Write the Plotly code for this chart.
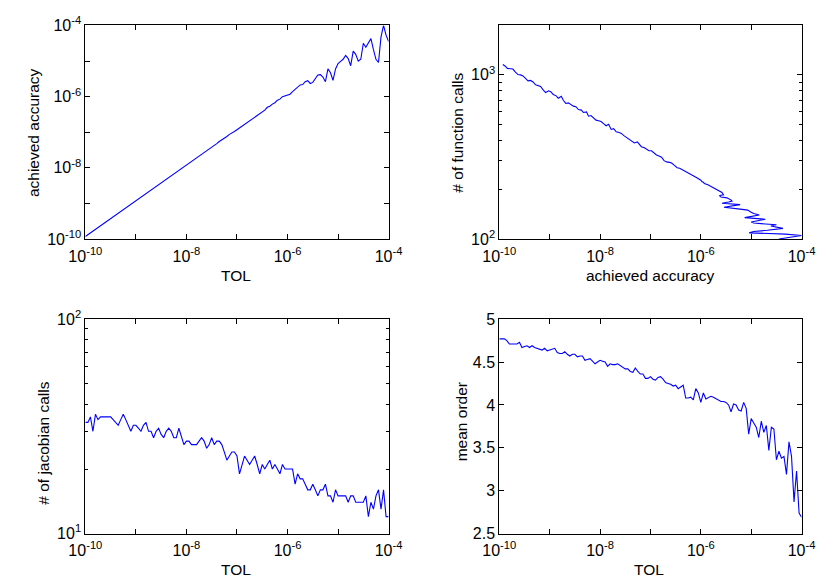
import plotly.graph_objects as go

# ---- data ----
tol_exp = [
    -10.00, -9.95, -9.90, -9.85, -9.80, -9.75, -9.70, -9.65, -9.60, -9.55,
    -9.50, -9.45, -9.40, -9.35, -9.30, -9.25, -9.20, -9.15, -9.10, -9.05,
    -9.00, -8.95, -8.90, -8.85, -8.80, -8.75, -8.70, -8.65, -8.60, -8.55,
    -8.50, -8.45, -8.40, -8.35, -8.30, -8.25, -8.20, -8.15, -8.10, -8.05,
    -8.00, -7.95, -7.90, -7.85, -7.80, -7.75, -7.70, -7.65, -7.60, -7.55,
    -7.50, -7.45, -7.40, -7.35, -7.30, -7.25, -7.20, -7.15, -7.10, -7.05,
    -7.00, -6.95, -6.90, -6.85, -6.80, -6.75, -6.70, -6.65, -6.60, -6.55,
    -6.50, -6.45, -6.40, -6.35, -6.30, -6.25, -6.20, -6.15, -6.10, -6.05,
    -6.00, -5.95, -5.90, -5.85, -5.80, -5.75, -5.70, -5.65, -5.60, -5.55,
    -5.50, -5.45, -5.40, -5.35, -5.30, -5.25, -5.20, -5.15, -5.10, -5.05,
    -5.00, -4.95, -4.90, -4.85, -4.80, -4.75, -4.70, -4.65, -4.60, -4.55,
    -4.50, -4.45, -4.40, -4.35, -4.30, -4.25, -4.20, -4.15, -4.10, -4.05,
    -4.00,
]

acc_exp = [
    -9.93, -9.88, -9.84, -9.78, -9.73, -9.68, -9.63, -9.58, -9.53, -9.47,
    -9.43, -9.38, -9.33, -9.28, -9.22, -9.18, -9.13, -9.08, -9.02, -8.98,
    -8.93, -8.87, -8.83, -8.77, -8.73, -8.68, -8.63, -8.58, -8.53, -8.48,
    -8.43, -8.37, -8.33, -8.27, -8.23, -8.18, -8.13, -8.08, -8.03, -7.98,
    -7.93, -7.88, -7.83, -7.78, -7.73, -7.68, -7.62, -7.58, -7.52, -7.47,
    -7.43, -7.38, -7.32, -7.26, -7.22, -7.18, -7.12, -7.06, -7.03, -6.98,
    -6.93, -6.88, -6.83, -6.78, -6.73, -6.68, -6.62, -6.58, -6.53, -6.47,
    -6.42, -6.38, -6.30, -6.27, -6.21, -6.17, -6.10, -6.07, -6.00, -5.98,
    -5.95, -5.93, -5.86, -5.80, -5.73, -5.67, -5.66, -5.58, -5.55, -5.63,
    -5.60, -5.48, -5.39, -5.38, -5.45, -5.58, -5.22, -5.33, -5.54, -5.22,
    -5.07, -5.01, -4.95, -4.84, -4.93, -5.13, -4.72, -4.81, -5.00, -4.95,
    -4.50, -4.61, -4.50, -4.37, -4.68, -4.95, -5.04, -4.32, -4.00, -4.27,
    -4.45,
]

fcalls = [
    1156, 1130, 1095, 1090, 1085, 1040, 1005, 1000, 985, 945,
    920, 925, 905, 870, 860, 850, 810, 780, 800, 790,
    760, 745, 720, 740, 700, 670, 675, 660, 645, 640,
    615, 610, 590, 595, 560, 565, 545, 530, 525, 520,
    505, 490, 500, 465, 470, 450, 445, 440, 425, 415,
    410, 400, 385, 390, 375, 365, 360, 350, 345, 345,
    335, 325, 320, 315, 300, 295, 293, 290, 282, 272,
    270, 266, 258, 256, 250, 245, 238, 235, 228, 224,
    222, 218, 214, 209, 204, 200, 197, 192, 186, 184,
    180, 178, 172, 170, 168, 165, 162, 160, 156, 152,
    150, 146, 143, 140, 138, 135, 132, 130, 127, 125,
    122, 120, 118, 116, 113, 111, 109, 107, 105, 102,
    100,
]

jac_calls = [
    33, 33, 35, 30, 36, 34, 35, 35, 35, 35,
    35, 34, 33, 32, 34, 36, 34, 32, 30, 32,
    32, 31, 30, 32, 33, 30, 30, 28, 30, 31,
    29, 28, 30, 31, 30, 28, 28, 31, 28, 26,
    27, 27, 26, 26, 26, 27, 28, 27, 25, 26,
    28, 26, 27, 27, 26, 24, 22, 23, 24, 24,
    23, 19, 21, 23, 22, 21, 22, 23, 21, 19,
    21, 20, 21, 22, 20, 21, 20, 19, 21, 20,
    20, 20, 20, 17, 19, 18, 18, 17, 16, 16,
    17, 16, 15, 16, 16, 17, 15, 15, 14, 16,
    15, 15, 15, 15, 14, 15, 15, 14, 14, 14,
    14, 15, 12, 14, 13, 15, 16, 13, 16, 12,
    12,
]

mean_order = [
    4.77, 4.77, 4.77, 4.75, 4.71, 4.71, 4.71, 4.71, 4.73, 4.67,
    4.68, 4.69, 4.67, 4.69, 4.67, 4.66, 4.65, 4.64, 4.66, 4.63,
    4.64, 4.65, 4.66, 4.61, 4.60, 4.60, 4.62, 4.59, 4.57, 4.59,
    4.59, 4.56, 4.57, 4.57, 4.52, 4.53, 4.54, 4.51, 4.48, 4.50,
    4.52, 4.51, 4.50, 4.45, 4.48, 4.47, 4.47, 4.48, 4.46, 4.44,
    4.42, 4.42, 4.39, 4.38, 4.43, 4.39, 4.36, 4.36, 4.31, 4.31,
    4.33, 4.30, 4.29, 4.32, 4.33, 4.30, 4.26, 4.25, 4.24, 4.22,
    4.23, 4.19, 4.21, 4.23, 4.08, 4.08, 4.09, 4.06, 4.19, 4.14,
    4.03, 4.14, 4.07, 4.09, 4.10, 4.09, 4.07, 4.05, 4.04, 4.04,
    4.03, 4.00, 3.92, 4.01, 4.00, 3.94, 3.93, 4.03, 3.96, 3.66,
    3.84, 3.79, 3.74, 3.62, 3.81, 3.68, 3.76, 3.47, 3.74, 3.72,
    3.36, 3.46, 3.38, 3.40, 3.19, 3.57, 3.40, 2.87, 3.23, 2.74,
    2.69,
]

tol = [10 ** e for e in tol_exp]
acc = [10 ** e for e in acc_exp]

# ---- figure ----
FONT = "Liberation Sans, Arial, Helvetica, sans-serif"
W, H = 831, 588
line = dict(color="#0000FF", width=1.1)

fig = go.Figure()
fig.add_trace(go.Scatter(x=tol, y=acc, mode="lines", line=line, xaxis="x", yaxis="y"))
fig.add_trace(go.Scatter(x=acc, y=fcalls, mode="lines", line=line, xaxis="x2", yaxis="y2"))
fig.add_trace(go.Scatter(x=tol, y=jac_calls, mode="lines", line=line, xaxis="x3", yaxis="y3"))
fig.add_trace(go.Scatter(x=tol, y=mean_order, mode="lines", line=line, xaxis="x4", yaxis="y4"))

dec_vals = [10.0 ** k for k in range(-10, -3)]
dec_text = ["10<sup>-10</sup>", "", "10<sup>-8</sup>", "", "10<sup>-6</sup>", "", "10<sup>-4</sup>"]


def base_axis(**kw):
    d = dict(
        showline=True, linecolor="black", linewidth=1, mirror="ticks",
        ticks="inside", ticklen=5, tickwidth=1, tickcolor="black",
        showgrid=False, zeroline=False,
        tickfont=dict(family=FONT, size=16, color="black"),
        fixedrange=True,
    )
    d.update(kw)
    return d


def log_dec_axis(domain, anchor, **kw):
    return base_axis(type="log", range=[-10, -4], domain=domain, anchor=anchor,
                     tickmode="array", tickvals=dec_vals, ticktext=dec_text, **kw)


xl = [71 / W, 386 / W]
xr = [501 / W, 815 / W]
yt = [1 - 236 / H, 1 - 15 / H]
yb = [1 - 541 / H, 1 - 319 / H]

fig.update_layout(
    width=W, height=H,
    margin=dict(l=0, r=0, t=0, b=0),
    paper_bgcolor="white", plot_bgcolor="white",
    showlegend=False,
    font=dict(family=FONT, size=16, color="black"),
    xaxis=log_dec_axis(xl, "y", ticklabelstandoff=3),
    yaxis=log_dec_axis(yt, "x"),
    xaxis2=log_dec_axis(xr, "y2", ticklabelstandoff=3),
    yaxis2=base_axis(type="log", range=[2, 3.30103], domain=yt, anchor="x2",
                     tickmode="array", tickvals=[100, 1000],
                     ticktext=["10<sup>2</sup>", "10<sup>3</sup>"],
                     minor=dict(tickvals=[200, 300, 400, 500, 600, 700, 800, 900],
                                ticks="inside", ticklen=3, tickcolor="black", showgrid=False)),
    xaxis3=log_dec_axis(xl, "y3", ticklabelstandoff=2),
    yaxis3=base_axis(type="log", range=[1, 2], domain=yb, anchor="x3",
                     tickmode="array", tickvals=[10, 100],
                     ticktext=["10<sup>1</sup>", "10<sup>2</sup>"],
                     minor=dict(tickvals=[20, 30, 40, 50, 60, 70, 80, 90],
                                ticks="inside", ticklen=3, tickcolor="black", showgrid=False)),
    xaxis4=log_dec_axis(xr, "y4", ticklabelstandoff=2),
    yaxis4=base_axis(range=[2.5, 5], domain=yb, anchor="x4",
                     tickmode="array", tickvals=[2.5, 3, 3.5, 4, 4.5, 5],
                     ticktext=["2.5", "3", "3.5", "4", "4.5", "5"]),
)


def label(text, px, py, rot=0):
    fig.add_annotation(text=text, x=px / W, y=1 - py / H, xref="paper", yref="paper",
                       showarrow=False, textangle=rot, xanchor="center", yanchor="middle",
                       font=dict(family=FONT, size=15.5, color="black"))


label("achieved accuracy", 17, 126, -90)
label("TOL", 228, 274)
label("# of function calls", 458, 126, -90)
label("achieved accuracy", 658, 274)
label("# of jacobian calls", 28, 447, -90)
label("TOL", 228, 578)
label("mean order", 462, 425, -90)
label("TOL", 657, 578)

fig.write_html("out.html")
